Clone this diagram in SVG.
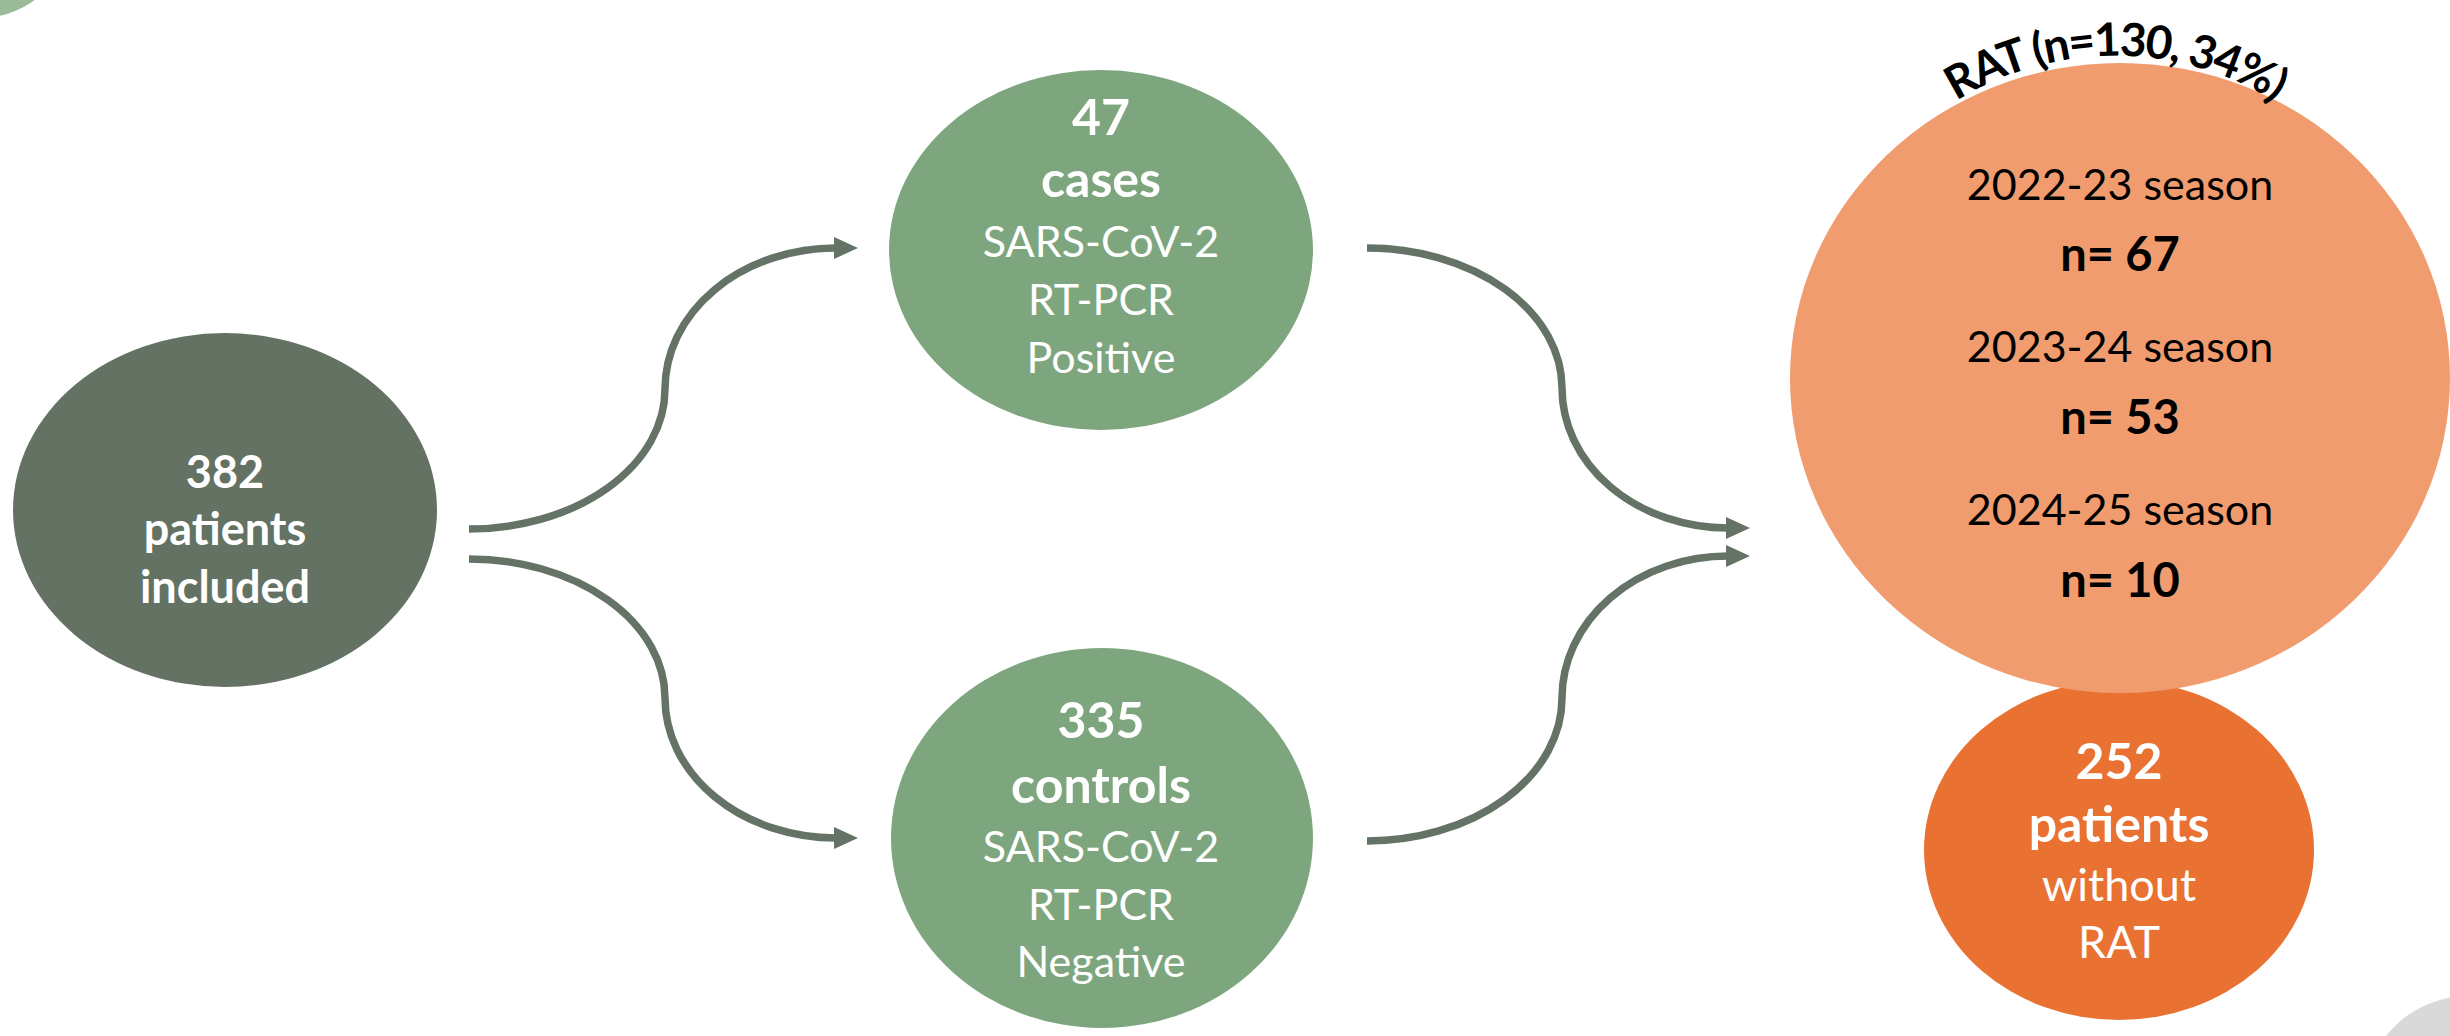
<svg xmlns="http://www.w3.org/2000/svg" width="2450" height="1036" viewBox="0 0 2450 1036">
<defs>
<style>
.t{font-family:Lato,"Open Sans","Liberation Sans",sans-serif;text-anchor:middle;}
.w{fill:#ffffff;}
.k{fill:#000000;}
.b{font-weight:bold;}
.big{font-size:50px;}
.reg{font-size:43px;}
.conn{fill:none;stroke:#647365;stroke-width:7.5;marker-end:url(#ah);}
</style>
<marker id="ah" markerUnits="userSpaceOnUse" viewBox="0 0 24 22" refX="2" refY="11" markerWidth="24" markerHeight="22" orient="auto">
<path d="M0,0 L24,11 L0,22 z" fill="#647365"/>
</marker>
<path id="arc" d="M1835,248 A300,300 0 0 1 2395,248"/>
</defs>
<rect width="2450" height="1036" fill="#ffffff"/>
<g id="decor">
<circle cx="-20" cy="-74" r="92" fill="#9bbb98"/>
<circle cx="2468" cy="1100" r="104" fill="#d9d9d9"/>
</g>
<g id="connectors">
<path class="conn" d="M469,529 A196,140 0 0 0 665,389 A171,141 0 0 1 836,248"/>
<path class="conn" d="M469,559 A196,139 0 0 1 665,698 A171,140 0 0 0 836,838"/>
<path class="conn" d="M1367,248 A195,140 0 0 1 1562,388 A166,140 0 0 0 1728,528"/>
<path class="conn" d="M1367,841 A195,143 0 0 0 1562,698 A166,142 0 0 1 1728,556"/>
</g>
<g id="node-included">
<ellipse cx="225" cy="510" rx="212" ry="177" fill="#637262"/>
<text class="t w b" font-size="45" x="225" y="488">382</text>
<text class="t w b" font-size="45" x="225" y="545">patients</text>
<text class="t w b" font-size="45" x="225" y="603">included</text>
</g>
<g id="node-cases">
<ellipse cx="1101" cy="250" rx="212" ry="180" fill="#7ea67e"/>
<text class="t w b big" x="1101" y="135">47</text>
<text class="t w b big" x="1101" y="197">cases</text>
<text class="t w reg" x="1101" y="257">SARS-CoV-2</text>
<text class="t w reg" x="1101" y="315">RT-PCR</text>
<text class="t w reg" x="1101" y="373">Positive</text>
</g>
<g id="node-controls">
<ellipse cx="1102" cy="838" rx="211" ry="190" fill="#7ea67e"/>
<text class="t w b big" x="1101" y="738">335</text>
<text class="t w b big" x="1101" y="803">controls</text>
<text class="t w reg" x="1101" y="862">SARS-CoV-2</text>
<text class="t w reg" x="1101" y="920">RT-PCR</text>
<text class="t w reg" x="1101" y="977">Negative</text>
</g>
<g id="node-without-rat">
<ellipse cx="2119" cy="850" rx="195" ry="170" fill="#e97132"/>
<text class="t w b big" x="2119" y="779">252</text>
<text class="t w b big" x="2119" y="842">patients</text>
<text class="t w" font-size="45" x="2119" y="901">without</text>
<text class="t w" font-size="45" x="2119" y="958">RAT</text>
</g>
<g id="node-rat">
<ellipse cx="2120" cy="378" rx="330" ry="315" fill="#f09c6e"/>
<text class="t k reg" x="2120" y="200">2022-23 season</text>
<text class="t k b" font-size="47" x="2120" y="271">n= 67</text>
<text class="t k reg" x="2120" y="362">2023-24 season</text>
<text class="t k b" font-size="47" x="2120" y="434">n= 53</text>
<text class="t k reg" x="2120" y="525">2024-25 season</text>
<text class="t k b" font-size="47" x="2120" y="597">n= 10</text>
<text class="t k b" font-size="46" letter-spacing="-2"><textPath href="#arc" startOffset="50%">RAT (n=130, 34%)</textPath></text>
</g>
</svg>
